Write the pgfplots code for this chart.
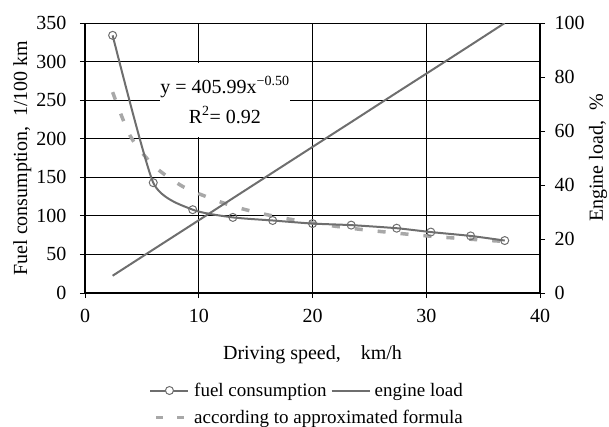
\documentclass[border=0pt]{standalone}
\usepackage{fontspec}
\setmainfont{Liberation Serif}
\usepackage{pgfplots}
\pgfplotsset{compat=1.18}
\definecolor{lgray}{HTML}{6E6E6E}
\definecolor{dgray}{HTML}{A8A8A8}
\begin{document}
\begin{tikzpicture}
\path[use as bounding box] (-85pt,-133pt) rectangle (524pt,293pt);
\pgfplotsset{
  common/.style={
    scale only axis, width=455pt, height=270pt,
    xmin=0, xmax=40,
    xtick={0,10,...,40},
    /pgf/number format/assume math mode=true,
    tick label style={font=\fontsize{20}{22}\selectfont},
    label style={font=\fontsize{20}{22}\selectfont},
    tick align=outside, major tick length=5pt,
    tick style={black, line width=0.8pt},
    axis line style={line width=1.8pt, -},
  }
}
\begin{axis}[common,
  ymin=0, ymax=350, ytick={0,50,...,350},
  axis x line*=bottom, axis y line*=left,
  grid=major, grid style={black, line width=1pt},
  xlabel={Driving speed,\ \ \ \ km/h},
  ylabel={Fuel consumption,\ \ 1/100 km},
  xlabel style={at={(axis description cs:0.5,0)}, anchor=north, yshift=-49pt},
  ylabel style={at={(axis description cs:0,0.5)}, anchor=south, yshift=50pt},
  xticklabel style={yshift=-8pt},
  yticklabel style={xshift=-10pt},
]
\addplot[dgray, line width=3.5pt, dash pattern=on 8pt off 15pt, smooth] coordinates {
(2.43,260.4) (4,203) (6.0,165.7) (8,143.5) (9.47,131.9) (13.0,112.6) (16.5,99.9)
(20.0,90.8) (23.4,83.9) (27.4,77.6) (30.4,73.6) (33.9,69.7) (36.9,66.8)};
\addplot[lgray, line width=2pt, smooth, tension=0.35, mark=o, mark size=4pt,
  mark options={fill=white, line width=1pt}] coordinates {
(2.43,334) (6.0,143) (9.47,108) (13.0,98) (16.5,94) (20.0,90) (23.4,88)
(27.4,84) (30.4,79) (33.9,74) (36.9,68)};
\node[fill=white, inner sep=0pt, minimum width=124pt, minimum height=74pt, align=center,
  font=\fontsize{20}{30}\selectfont] at (axis cs:12.3,250)
  {y = 405.99x\textsuperscript{−0.50}\\R\textsuperscript{2}= 0.92};
\end{axis}
\begin{axis}[common,
  ymin=0, ymax=100, ytick={0,20,...,100},
  axis x line=none, axis y line*=right,
  ylabel={Engine load,\ \ \%},
  ylabel style={at={([xshift=58pt]axis description cs:1,0.5)}, anchor=center},
  yticklabel style={xshift=6pt},
  legend columns=2,
  legend style={at={(axis description cs:0.5,-0.318)}, anchor=north west, xshift=-167pt, draw=none, fill=none,
    font=\fontsize{19}{22}\selectfont, column sep=2pt, row sep=8pt,
    /tikz/every even column/.append style={column sep=2pt}},
  legend cell align=left,
  legend image code/.code={\draw[#1] (0pt,0pt) -- (38pt,0pt);},
]
\addlegendimage{legend image code/.code={
  \draw[lgray, line width=2pt] (0pt,0pt) -- (38pt,0pt);
  \draw[lgray, fill=white, line width=1pt] (19pt,0pt) circle (4pt);}}
\addlegendentry{fuel consumption}
\addplot[lgray, line width=2pt] coordinates {
(2.43,6.4) (6.0,16.1) (9.47,25.5) (13.0,35.1) (16.5,44.6) (20.0,54.1) (23.4,63.3)
(27.4,74.2) (30.4,82.3) (33.9,91.8) (36.9,100.0)};
\addlegendentry{engine load}
\addlegendimage{dgray, line width=3.5pt, dash pattern=on 7pt off 14pt, dash phase=15pt}
\addlegendentry{\makebox[0pt][l]{according to approximated formula}}
\end{axis}
\end{tikzpicture}
\end{document}
